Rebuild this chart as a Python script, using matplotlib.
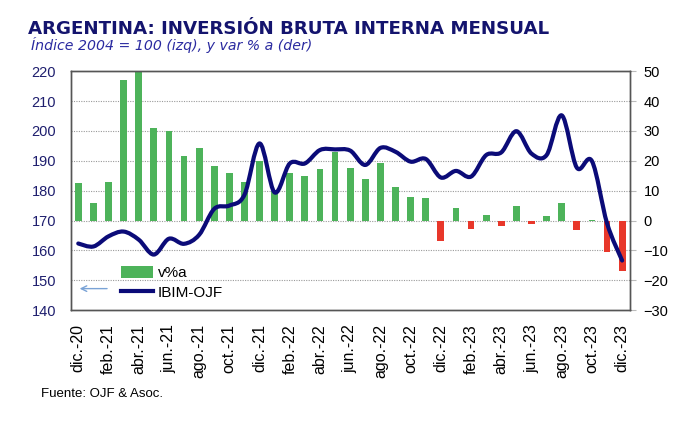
import numpy as np
import matplotlib
matplotlib.use("Agg")
import matplotlib.pyplot as plt
from matplotlib.path import Path
from matplotlib.patches import PathPatch, Patch
from matplotlib.lines import Line2D

# meses dic-20 .. dic-23
meses = ["dic.-20", "ene.-21", "feb.-21", "mar.-21", "abr.-21", "may.-21", "jun.-21",
         "jul.-21", "ago.-21", "sep.-21", "oct.-21", "nov.-21", "dic.-21", "ene.-22",
         "feb.-22", "mar.-22", "abr.-22", "may.-22", "jun.-22", "jul.-22", "ago.-22",
         "sep.-22", "oct.-22", "nov.-22", "dic.-22", "ene.-23", "feb.-23", "mar.-23",
         "abr.-23", "may.-23", "jun.-23", "jul.-23", "ago.-23", "sep.-23", "oct.-23",
         "nov.-23", "dic.-23"]

# variacion % anual (eje derecho)
var_pct = [12.4, 5.8, 13.0, 46.9, 51.0, 30.8, 29.9, 21.6, 24.3, 18.3, 15.8, 13.0,
           20.0, 10.0, 16.0, 14.9, 17.4, 23.0, 17.7, 13.8, 19.4, 11.1, 8.0, 7.4,
           -7.0, 4.3, -2.8, 1.7, -1.8, 4.9, -1.2, 1.4, 5.8, -3.3, 0.3, -10.7, -16.8]

# indice IBIM-OJF (eje izquierdo)
ibim = [162.3, 161.3, 164.7, 166.3, 163.6, 158.6, 163.9, 162.2, 165.2, 173.9, 175.0,
        178.6, 195.8, 179.4, 189.1, 189.1, 193.6, 193.8, 193.4, 188.6, 194.3, 193.0,
        189.7, 190.6, 184.4, 186.6, 184.7, 191.9, 192.8, 199.9, 192.4, 191.9, 205.2,
        187.7, 189.9, 169.1, 156.6]

azul = "#0b0b78"
verde = "#4db35a"
rojo = "#e8372a"


def curva_suave(x, y):
    # linea suavizada tipo Excel (Catmull-Rom -> Bezier)
    x = np.asarray(x, float)
    y = np.asarray(y, float)
    verts = [(x[0], y[0])]
    codes = [Path.MOVETO]
    n = len(x)
    for i in range(n - 1):
        x0, y0 = (x[i - 1], y[i - 1]) if i > 0 else (x[i], y[i])
        x3, y3 = (x[i + 2], y[i + 2]) if i + 2 < n else (x[i + 1], y[i + 1])
        c1 = (x[i] + (x[i + 1] - x0) / 6, y[i] + (y[i + 1] - y0) / 6)
        c2 = (x[i + 1] - (x3 - x[i]) / 6, y[i + 1] - (y3 - y[i]) / 6)
        verts += [c1, c2, (x[i + 1], y[i + 1])]
        codes += [Path.CURVE4] * 3
    return Path(verts, codes)


x = np.arange(len(meses))

fig = plt.figure(figsize=(6.8, 4.26), dpi=100)
ax = fig.add_axes([0.104, 0.272, 0.822, 0.561])
ax2 = ax.twinx()

# barras (eje derecho)
colores = [verde if v >= 0 else rojo for v in var_pct]
ax.bar(x, var_pct, width=0.45, color=colores, zorder=2)
ax.set_ylim(-30, 50)
ax.set_yticks(range(-30, 51, 10))
for v in range(-20, 50, 10):
    ax.axhline(v, color="#9a9a9a", lw=0.8, ls=(0, (1, 1.2)), zorder=1)
ax.set_xlim(-0.5, len(meses) - 0.5)
ax.set_xticks(x[::2])
ax.set_xticklabels(meses[::2], rotation=90, fontsize=11.5)
ax.tick_params(axis="x", length=0, pad=10)
ax.yaxis.tick_right()
ax.tick_params(axis="y", left=False, labelleft=False, right=True, labelright=True,
               length=4, color="#bbbbbb", labelsize=10.5, pad=6, labelcolor="black")

# indice (eje izquierdo)
ax2.set_ylim(140, 220)
ax2.set_yticks(range(140, 221, 10))
ax2.yaxis.tick_left()
ax2.tick_params(axis="y", right=False, labelright=False, left=False, labelleft=True,
                labelsize=10.5, pad=7, labelcolor="#1e1e6e")
ax2.add_patch(PathPatch(curva_suave(x, ibim), fill=False, edgecolor=azul, lw=3.0,
                        capstyle="round", joinstyle="round", zorder=3))

for a in (ax, ax2):
    for s in a.spines.values():
        s.set_color("#555555")
        s.set_linewidth(1.0)

for lab in ax.get_xticklabels() + ax.get_yticklabels() + ax2.get_yticklabels():
    lab.set_fontfamily("Liberation Sans")

# leyenda
handles = [Patch(facecolor=verde, edgecolor="none"),
           Line2D([], [], color=azul, lw=3.0)]
ax2.legend(handles, ["v%a", "IBIM-OJF"], loc="lower left",
           bbox_to_anchor=(0.066, -0.015), frameon=False,
           handlelength=2.1, handleheight=0.8, handletextpad=0.3,
           labelspacing=0.35, prop={"family": "Liberation Sans", "size": 11})
ax2.annotate("", xy=(0.011, 0.09), xytext=(0.07, 0.09), xycoords="axes fraction",
             arrowprops=dict(arrowstyle="->", color="#7aa3d6", lw=1.0))

# textos
fig.text(0.041, 1 - 34 / 426, "ARGENTINA: INVERSIÓN BRUTA INTERNA MENSUAL",
         fontsize=13.15, fontweight="bold", color="#14146e", va="baseline",
         family="DejaVu Sans")
fig.text(0.045, 1 - 50 / 426, "Índice 2004 = 100 (izq), y var % a (der)",
         fontsize=10.2, style="italic", color="#2a2aa0", va="baseline",
         family="DejaVu Sans")
fig.text(0.061, 1 - 397 / 426, "Fuente: OJF & Asoc.", fontsize=9.5,
         family="Liberation Sans", va="baseline")

fig.savefig("out.png", dpi=100)
